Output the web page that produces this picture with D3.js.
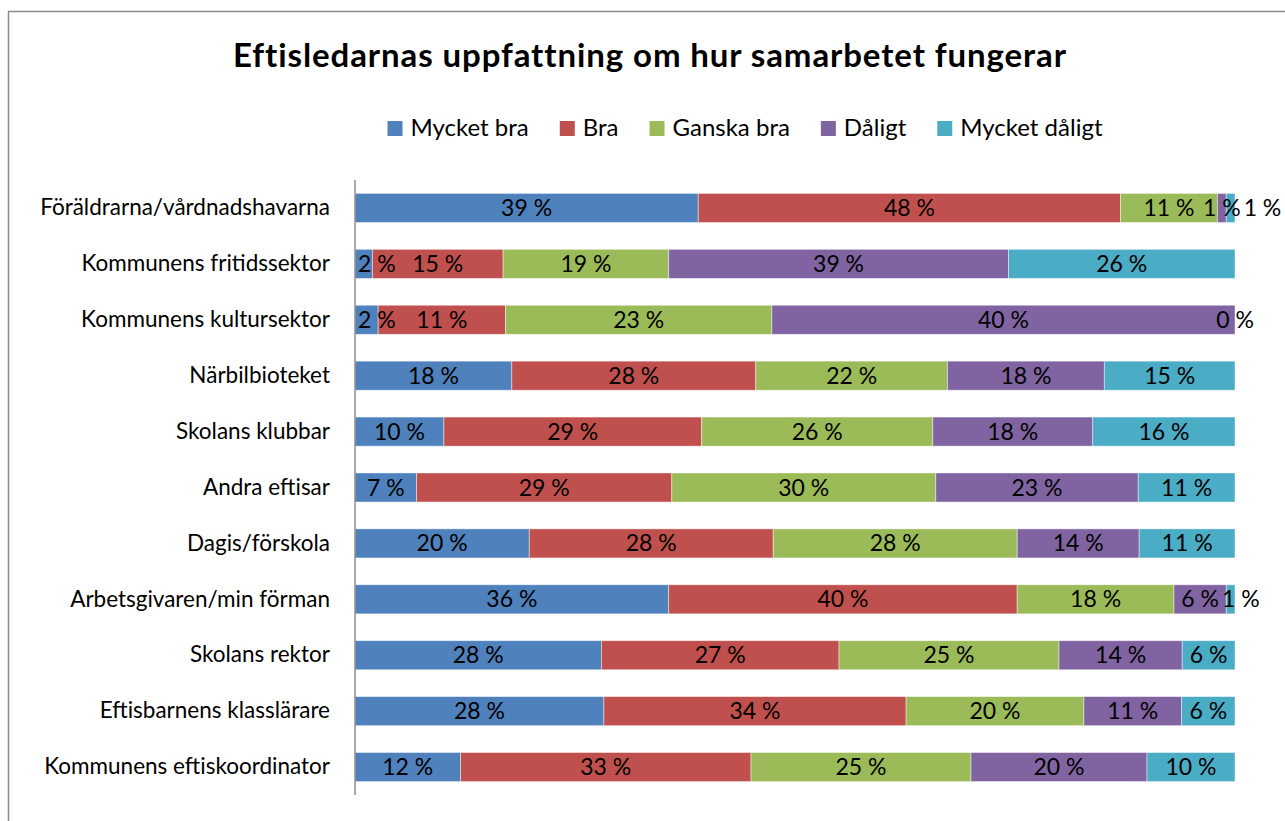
<!DOCTYPE html>
<html>
<head>
<meta charset="utf-8">
<script src="https://cdn.jsdelivr.net/npm/d3@7"></script>
<style>
  html, body { margin: 0; padding: 0; background: #fff; }
  svg { display: block; }
  text { font-family: Lato, "Noto Sans", sans-serif; fill: #000; }
</style>
</head>
<body>
<svg id="chart" width="1285" height="821"></svg>
<script>
// Survey answers (percent per respondent group)
const categories = [
  "Föräldrarna/vårdnadshavarna",
  "Kommunens fritidssektor",
  "Kommunens kultursektor",
  "Närbilbioteket",
  "Skolans klubbar",
  "Andra eftisar",
  "Dagis/förskola",
  "Arbetsgivaren/min förman",
  "Skolans rektor",
  "Eftisbarnens klasslärare",
  "Kommunens eftiskoordinator"
];
const seriesNames = ["Mycket bra", "Bra", "Ganska bra", "Dåligt", "Mycket dåligt"];
const mycketBra    = [39,  2,  2, 18, 10,  7, 20, 36, 28, 28, 12];
const bra          = [48, 15, 11, 28, 29, 29, 28, 40, 27, 34, 33];
const ganskaBra    = [11, 19, 23, 22, 26, 30, 28, 18, 25, 20, 25];
const daligt       = [ 1, 39, 40, 18, 18, 23, 14,  6, 14, 11, 20];
const mycketDaligt = [ 1, 26,  0, 15, 16, 11, 11,  1,  6,  6, 10];
const colors = ["#4F81BD", "#C0504D", "#9BBB59", "#8064A2", "#4BACC6"];

const seriesValues = [mycketBra, bra, ganskaBra, daligt, mycketDaligt];
const rows = categories.map((c, i) => {
  const r = { category: c };
  seriesNames.forEach((s, k) => { r[s] = seriesValues[k][i]; });
  return r;
});

const svg = d3.select("#chart");

// chart frame
svg.append("path")
  .attr("d", "M8.5,821 V11.5 H1285")
  .attr("fill", "none")
  .attr("stroke", "#8c8c8c")
  .attr("stroke-width", 1.5);

// title
svg.append("text")
  .attr("x", 650).attr("y", 67)
  .attr("text-anchor", "middle")
  .attr("font-weight", "bold")
  .attr("font-size", 33)
  .attr("letter-spacing", 0.9)
  .text("Eftisledarnas uppfattning om hur samarbetet fungerar");

// legend
const legend = svg.append("g");
const legendItems = legend.selectAll("g").data(seriesNames).join("g");
legendItems.append("rect")
  .attr("width", 15).attr("height", 15)
  .attr("y", 121)
  .attr("fill", (d, i) => colors[i]);
legendItems.append("text")
  .attr("x", 23).attr("y", 136)
  .attr("font-size", 24)
  .text(d => d);
const itemWidths = [];
legendItems.each(function () {
  const w = 23 + d3.select(this).select("text").node().getComputedTextLength();
  itemWidths.push(w);
});
const legendGap = 31;
const legendTotal = d3.sum(itemWidths) + legendGap * (itemWidths.length - 1);
let lx = 745 - legendTotal / 2;
legendItems.attr("transform", (d, i) => {
  const t = `translate(${lx},0)`;
  lx += itemWidths[i] + legendGap;
  return t;
});

// scales
const x = d3.scaleLinear().domain([0, 1]).range([355, 1235]);
const y = d3.scaleBand().domain(categories).range([180, 795])
  .paddingInner(0.48).paddingOuter(0.24);

const stack = d3.stack().keys(seriesNames).offset(d3.stackOffsetExpand);
const stacked = stack(rows);

// bars
const layers = svg.append("g").selectAll("g").data(stacked).join("g")
  .attr("fill", (d, i) => colors[i]);
layers.selectAll("rect").data(d => d).join("rect")
  .attr("x", d => x(d[0]))
  .attr("y", d => y(d.data.category))
  .attr("width", d => Math.max(0, x(d[1]) - x(d[0])))
  .attr("height", y.bandwidth())
  .attr("stroke", "rgba(255,255,255,0.55)")
  .attr("stroke-width", 0.8);

// category axis
const yAxis = svg.append("g")
  .attr("transform", `translate(${x(0)},0)`)
  .call(d3.axisLeft(y).tickSize(0).tickPadding(25));
yAxis.select(".domain").attr("stroke", "#8c8c8c").attr("stroke-width", 1.5)
  .attr("d", "M0,180V795");
yAxis.selectAll(".tick text")
  .attr("font-size", 22.5)
  .attr("font-family", "Lato, 'Noto Sans', sans-serif")
  .attr("fill", "#000");

// data labels, centred on each segment, nudged so they stay readable
const labelLayer = svg.append("g");
categories.forEach((cat, ci) => {
  let prevEnd = -Infinity;
  stacked.forEach((layer, si) => {
    const d = layer[ci];
    const v = seriesValues[si][ci];
    const t = labelLayer.append("text")
      .attr("font-size", 23)
      .attr("y", y(cat) + y.bandwidth() / 2)
      .attr("dy", "0.35em")
      .text(v + " %");
    const w = t.node().getComputedTextLength();
    let start = (x(d[0]) + x(d[1])) / 2 - w / 2;
    if (start < x(0) + 3) start = x(0) + 3;
    if (start < prevEnd + 3) start = prevEnd + 3;
    t.attr("x", start);
    prevEnd = start + w;
  });
});
</script>
</body>
</html>
